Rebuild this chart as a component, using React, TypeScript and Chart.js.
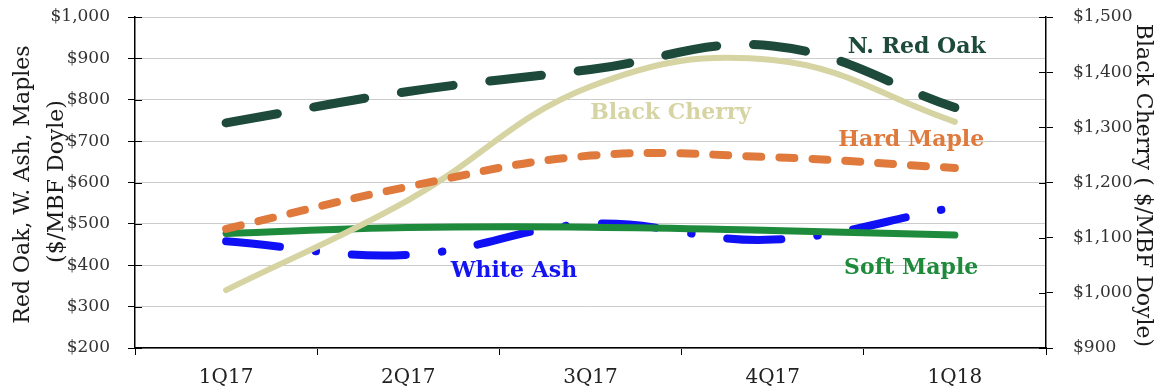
import React, { useEffect, useRef } from "react";
import { Chart, registerables } from "chart.js";

Chart.register(...registerables);

const quarters = ["1Q17", "2Q17", "3Q17", "4Q17", "1Q18"];
const redOak = [744, 820, 873, 930, 781];
const hardMaple = [488, 590, 665, 661, 635];
const softMaple = [477, 491, 492, 484, 473];
const whiteAsh = [458, 425, 500, 462, 540];
const blackCherry = [1005, 1168, 1374, 1422, 1310];

const leftTitle = ["Red Oak, W. Ash, Maples", "($/MBF Doyle)"];
const rightTitle = "Black Cherry ( $/MBF Doyle)";

const FONT = "'DejaVu Serif', serif";

type SeriesLabel = { text: string; color: string; at: number; value: number };
const seriesLabels: SeriesLabel[] = [
  { text: "N. Red Oak", color: "#1d4a3b", at: 3.79, value: 928 },
  { text: "Black Cherry", color: "#d6d4a2", at: 2.44, value: 768 },
  { text: "Hard Maple", color: "#e07a3c", at: 3.76, value: 703 },
  { text: "White Ash", color: "#1414f0", at: 1.58, value: 386 },
  { text: "Soft Maple", color: "#1e8a3c", at: 3.76, value: 393 },
];

const overlay = {
  id: "overlay",
  afterDraw(chart: any) {
    const { ctx, chartArea, scales } = chart;
    const x = scales.x;
    const y = scales.y;
    const y1 = scales.y1;
    ctx.save();
    // inward tick marks
    ctx.strokeStyle = "#000";
    ctx.lineWidth = 1;
    y.ticks.forEach((_t: any, i: number) => {
      const py = Math.round(y.getPixelForTick(i)) + 0.5;
      ctx.beginPath();
      ctx.moveTo(chartArea.left, py);
      ctx.lineTo(chartArea.left + 7, py);
      ctx.stroke();
    });
    y1.ticks.forEach((_t: any, i: number) => {
      const py = Math.round(y1.getPixelForTick(i)) + 0.5;
      ctx.beginPath();
      ctx.moveTo(chartArea.right - 7, py);
      ctx.lineTo(chartArea.right, py);
      ctx.stroke();
    });

    // axis titles
    ctx.fillStyle = "#1a1a1a";
    ctx.textAlign = "center";
    ctx.textBaseline = "middle";
    ctx.font = `22px ${FONT}`;
    const midY = (chartArea.top + chartArea.bottom) / 2;
    ctx.save();
    ctx.translate(23, midY + 2);
    ctx.rotate(-Math.PI / 2);
    ctx.fillText(leftTitle[0], 0, 0);
    ctx.restore();
    ctx.save();
    ctx.translate(57, midY - 1);
    ctx.rotate(-Math.PI / 2);
    ctx.fillText(leftTitle[1], 0, 0);
    ctx.restore();
    ctx.save();
    ctx.translate(1143, midY + 3);
    ctx.rotate(Math.PI / 2);
    ctx.fillText(rightTitle, 0, 0);
    ctx.restore();

    // series labels
    ctx.font = `bold 22px ${FONT}`;
    seriesLabels.forEach((l) => {
      ctx.fillStyle = l.color;
      ctx.fillText(l.text, x.getPixelForValue(l.at), y.getPixelForValue(l.value));
    });
    ctx.restore();
  },
};

export default function App() {
  const ref = useRef<HTMLCanvasElement>(null);
  useEffect(() => {
    document.body.style.margin = "0";
    const canvas = ref.current!;
    const line = {
      tension: 0.4,
      pointRadius: 0,
      pointHoverRadius: 0,
      borderCapStyle: "round",
      borderJoinStyle: "round",
      fill: false,
    };
    const noPad = (s: any) => {
      s.paddingTop = 0;
      s.paddingBottom = 0;
    };
    const chart = new Chart(canvas, {
      type: "line",
      data: {
        labels: quarters,
        datasets: [
          { ...line, label: "N. Red Oak", data: redOak, borderColor: "#1d4a3b", borderWidth: 9, borderDash: [52, 37], yAxisID: "y" },
          { ...line, label: "Hard Maple", data: hardMaple, borderColor: "#e07a3c", borderWidth: 8, borderDash: [15, 18], yAxisID: "y" },
          { ...line, label: "Black Cherry", data: blackCherry, borderColor: "#d6d4a2", borderWidth: 6, yAxisID: "y1" },
          { ...line, label: "Soft Maple", data: softMaple, borderColor: "#1e8a3c", borderWidth: 7, yAxisID: "y" },
          { ...line, label: "White Ash", data: whiteAsh, borderColor: "#1010f5", borderWidth: 8, borderDash: [54, 36, 0.5, 36], yAxisID: "y" },
        ] as any,
      },
      options: {
        responsive: false,
        animation: false,
        devicePixelRatio: 1,
        layout: { padding: { top: 17, left: 0, right: 0, bottom: 0 } },
        plugins: { legend: { display: false }, tooltip: { enabled: false } },
        scales: {
          x: {
            type: "category",
            offset: true,
            grid: { offset: true, drawOnChartArea: false, tickLength: 7, color: "#000", tickColor: "#000", lineWidth: 1 },
            border: { color: "#000", width: 1.5 },
            ticks: { font: { family: FONT, size: 20 }, color: "#222", padding: 11, maxRotation: 0 },
            afterFit: (s: any) => { s.height = 43; },
          },
          y: {
            position: "left",
            min: 200,
            max: 1000,
            ticks: {
              stepSize: 100,
              font: { family: FONT, size: 17 },
              color: "#333",
              padding: 18,
              callback: (v: any) => "$" + Number(v).toLocaleString("en-US"),
            },
            grid: { color: "#cccccc", lineWidth: 1, tickLength: 7, tickColor: "#000" },
            border: { color: "#000", width: 1.5 },
            afterFit: (s: any) => { s.width = 135; noPad(s); },
          },
          y1: {
            position: "right",
            min: 900,
            max: 1500,
            ticks: {
              stepSize: 100,
              font: { family: FONT, size: 17 },
              color: "#333",
              padding: 20,
              callback: (v: any) => "$" + Number(v).toLocaleString("en-US"),
            },
            grid: { drawOnChartArea: false, tickLength: 7, tickColor: "#000", color: "#000" },
            border: { color: "#000", width: 1.5 },
            afterFit: (s: any) => { s.width = 118; noPad(s); },
          },
        },
      } as any,
      plugins: [overlay],
    });
    return () => chart.destroy();
  }, []);
  return <canvas ref={ref} width={1164} height={391} style={{ display: "block", width: 1164, height: 391 }} />;
}
